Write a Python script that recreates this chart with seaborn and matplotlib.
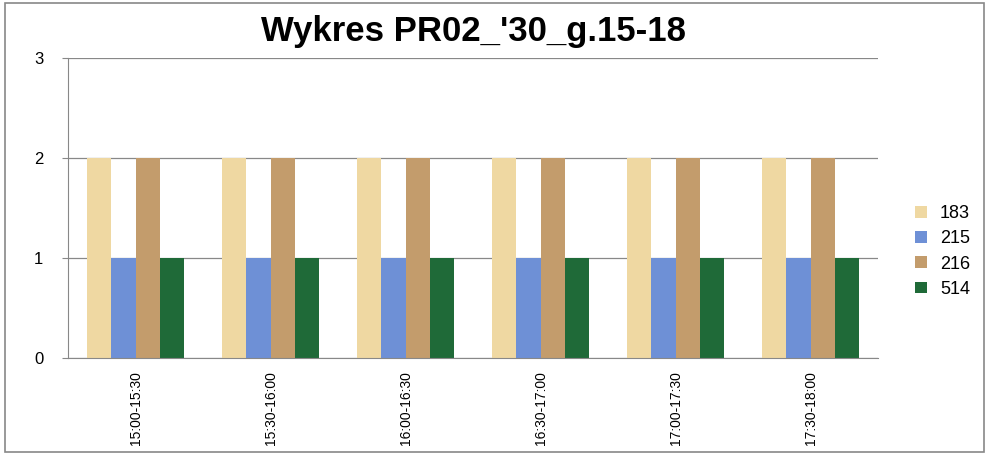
import pandas as pd
import matplotlib
matplotlib.use("Agg")
import matplotlib.pyplot as plt
import seaborn as sns
from matplotlib.patches import Rectangle

# chart data
periods = ["15:00-15:30", "15:30-16:00", "16:00-16:30", "16:30-17:00", "17:00-17:30", "17:30-18:00"]
series = ["183", "215", "216", "514"]
v183 = [2, 2, 2, 2, 2, 2]
v215 = [1, 1, 1, 1, 1, 1]
v216 = [2, 2, 2, 2, 2, 2]
v514 = [1, 1, 1, 1, 1, 1]
colors = ["#EFD8A2", "#6E90D6", "#C39C6C", "#1F6A38"]

rows = []
for name, vals in zip(series, [v183, v215, v216, v514]):
    for p, v in zip(periods, vals):
        rows.append({"period": p, "series": name, "value": v})
df = pd.DataFrame(rows)

sns.set_style("white")
plt.rcParams["font.family"] = ["Liberation Sans", "DejaVu Sans"]
plt.rcParams["text.color"] = "black"
plt.rcParams["xtick.color"] = "black"
plt.rcParams["ytick.color"] = "black"

fig = plt.figure(figsize=(9.89, 4.54), dpi=100)
ax = fig.add_axes([0.069, 0.2115, 0.819, 0.661])

sns.barplot(data=df, x="period", y="value", hue="series", palette=colors,
            width=0.72, saturation=1, ax=ax, linewidth=0)

ax.set_ylim(0, 3)
ax.set_yticks([0, 1, 2, 3])
ax.yaxis.grid(True, color="#888888", linewidth=0.9)
ax.set_axisbelow(True)
for s in ["top", "right"]:
    ax.spines[s].set_visible(False)
ax.spines["left"].set_color("#888888")
ax.spines["bottom"].set_color("#888888")
ax.tick_params(axis="y", left=True, length=4, color="#888888", labelcolor="black",
               labelsize=12, pad=14)
ax.tick_params(axis="x", bottom=False, pad=6, labelcolor="black")
ax.set_xlabel("")
ax.set_ylabel("")
for lbl in ax.get_xticklabels():
    lbl.set_rotation(90)
    lbl.set_fontsize(10)

ax.set_title("Wykres PR02_'30_g.15-18", fontsize=25, fontweight="bold", pad=12,
             color="black")

ax.legend(loc="center left", bbox_to_anchor=(1.025, 0.355), frameon=False,
          fontsize=13, handlelength=0.7, handleheight=0.6, handletextpad=0.7,
          labelspacing=0.45)

fig.patches.append(Rectangle((0.005, 0.004), 0.99, 0.99, transform=fig.transFigure,
                             fill=False, edgecolor="#888888", linewidth=1.2))

fig.savefig("out.png", dpi=100)
